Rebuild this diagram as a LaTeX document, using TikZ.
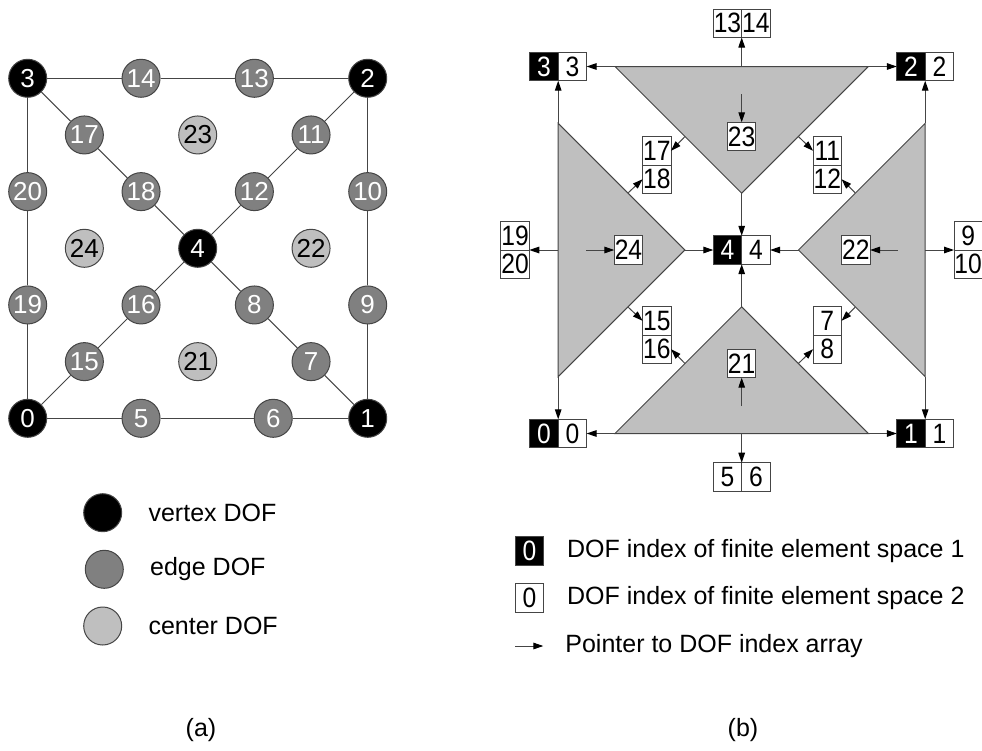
\documentclass[tikz,border=0pt]{standalone}
\usepackage{fontspec}
\setmainfont{Liberation Sans}
\newfontfamily\boxdigits[FakeStretch=0.88]{Liberation Sans}
\usetikzlibrary{arrows.meta,positioning}
\definecolor{edgegray}{gray}{0.5}
\definecolor{centergray}{gray}{0.75}
\definecolor{linegray}{gray}{0.27}
\tikzset{dof/.style={circle,draw=linegray,line width=0.5pt,minimum size=19pt,inner sep=0pt,font=\fontsize{13}{14}\selectfont},
  vdof/.style={dof,fill=black,text=white},
  edof/.style={dof,fill=edgegray,text=white},
  cdof/.style={dof,fill=centergray,text=black},
  cell/.style={draw=linegray,line width=0.5pt,fill=white,minimum width=14.2pt,minimum height=14.2pt,inner sep=0pt,outer sep=0pt,font=\boxdigits\fontsize{14}{15}\selectfont},
  bcell/.style={cell,fill=black,text=white},
  elem/.style={fill=centergray,draw=linegray,line width=0.5pt},
  ptr/.style={-{Triangle[length=5pt,width=3.3pt,black]},draw=linegray,line width=0.5pt},
  lbl/.style={font=\fontsize{12.5}{15}\selectfont,inner sep=0pt}}

\begin{document}
\begin{tikzpicture}[x=0.5pt,y=-0.5pt]
\useasboundingbox (0,0) rectangle (982,751);

% (a) DOFs of the quad element
\foreach \n/\i/\j/\s in {0/0/0/vdof,1/6/0/vdof,2/6/6/vdof,3/0/6/vdof,4/3/3/vdof,
  5/2/0/edof,6/4.333/0/edof,7/5/1/edof,8/4/2/edof,9/6/2/edof,10/6/4/edof,11/5/5/edof,12/4/4/edof,
  13/4/6/edof,14/2/6/edof,15/1/1/edof,16/2/2/edof,17/1/5/edof,18/2/4/edof,19/0/2/edof,20/0/4/edof,
  21/3/1/cdof,22/5/3/cdof,23/3/5/cdof,24/1/3/cdof}
  \node[\s] (d\n) at ({27.7+56.67*\i},{418.3-56.67*\j}) {\n};
\draw[linegray,line width=0.5pt] (d0)--(d5)--(d6)--(d1)--(d9)--(d10)--(d2)--(d13)--(d14)--(d3)--(d20)--(d19)--(d0);
\draw[linegray,line width=0.5pt] (d0)--(d15)--(d16)--(d4)--(d12)--(d11)--(d2);
\draw[linegray,line width=0.5pt] (d3)--(d17)--(d18)--(d4)--(d8)--(d7)--(d1);

\node[vdof] (kv) at (102.7,512.7) {};
\node[edof] (ke) at (104.3,569.3) {};
\node[cdof] (kc) at (102.7,626) {};
\node[lbl,right=13pt of kv] {vertex DOF};
\node[lbl,right=13pt of ke] {edge DOF};
\node[lbl,right=13pt of kc] {center DOF};
\node[lbl] at (201,730) {(a)};

% (b) the four sub-triangles
\coordinate (tl) at (615,66.5);   \coordinate (tr) at (868.4,66.5);  \coordinate (ta) at (741.7,193.2);
\coordinate (lt) at (558.2,123.3); \coordinate (lb) at (558.2,376.7); \coordinate (la) at (684.9,250);
\coordinate (rt) at (925.2,123.3); \coordinate (rb) at (925.2,376.7); \coordinate (ra) at (798.5,250);
\coordinate (bl) at (615,433.5);  \coordinate (br) at (868.4,433.5); \coordinate (ba) at (741.7,306.8);
\filldraw[elem] (tl) -- (tr) -- (ta) -- cycle;
\filldraw[elem] (lt) -- (la) -- (lb) -- cycle;
\filldraw[elem] (rt) -- (ra) -- (rb) -- cycle;
\filldraw[elem] (bl) -- (br) -- (ba) -- cycle;

% index boxes
\node[bcell,anchor=east] (b3) at (558.2,66.5) {3};  \node[cell,right=0pt of b3] (w3) {3};
\node[bcell,anchor=east] (b2) at (925.2,66.5) {2};  \node[cell,right=0pt of b2] (w2) {2};
\node[bcell,anchor=east] (b0) at (558.2,433.5) {0}; \node[cell,right=0pt of b0] (w0) {0};
\node[bcell,anchor=east] (b1) at (925.2,433.5) {1}; \node[cell,right=0pt of b1] (w1) {1};
\node[bcell,anchor=east] (b4) at (741.7,250) {4};   \node[cell,right=0pt of b4] (w4) {4};
\node[cell,anchor=south east] (c13) at (741.7,37.5) {13}; \node[cell,right=0pt of c13] (c14) {14};
\node[cell,anchor=north east] (c5) at (741.7,462.7) {5};  \node[cell,right=0pt of c5] (c6) {6};
\node[cell,anchor=south east] (c19) at (529.3,250) {19};  \node[cell,below=0pt of c19] (c20) {20};
\node[cell,anchor=south west] (c9) at (954,250) {9};      \node[cell,below=0pt of c9] (c10) {10};
\node[cell,anchor=south] (c17) at (656.8,165) {17}; \node[cell,below=0pt of c17] (c18) {18};
\node[cell,anchor=south] (c11) at (827.3,165) {11}; \node[cell,below=0pt of c11] (c12) {12};
\node[cell,anchor=south] (c15) at (656.8,335) {15}; \node[cell,below=0pt of c15] (c16) {16};
\node[cell,anchor=south] (c7) at (827.3,335) {7};   \node[cell,below=0pt of c7] (c8) {8};
\node[cell] (c23) at (741.7,136.5) {23};
\node[cell] (c21) at (741.7,363.5) {21};
\node[cell] (c24) at (628.5,250) {24};
\node[cell] (c22) at (855.9,250) {22};

% pointers
\coordinate (tm) at (741.7,66.5); \coordinate (bm) at (741.7,433.5);
\coordinate (lm) at (558.2,250);  \coordinate (rm) at (925.2,250);
\coordinate (p23) at (741.7,94);  \coordinate (p21) at (741.7,406);
\coordinate (p24) at (586,250);   \coordinate (p22) at (897.5,250);
\coordinate (e17) at (685,136.5);   \coordinate (e18) at (628.3,192.7);
\coordinate (e11) at (798.4,136.5); \coordinate (e12) at (855.1,192.7);
\coordinate (e15) at (628.3,307.3); \coordinate (e16) at (685,363.5);
\coordinate (e7) at (855.1,307.3);  \coordinate (e8) at (798.4,363.5);
\draw[ptr] (tl) -- (w3);  \draw[ptr] (tr) -- (b2);
\draw[ptr] (bl) -- (w0);  \draw[ptr] (br) -- (b1);
\draw[ptr] (lt) -- (b3.south east); \draw[ptr] (lb) -- (b0.north east);
\draw[ptr] (rt) -- (b2.south east); \draw[ptr] (rb) -- (b1.north east);
\draw[ptr] (tm) -- (c13.south east); \draw[ptr] (bm) -- (c5.north east);
\draw[ptr] (lm) -- (c19.south east); \draw[ptr] (rm) -- (c9.south west);
\draw[ptr] (la) -- (b4); \draw[ptr] (ra) -- (w4);
\draw[ptr] (ta) -- (b4.north east); \draw[ptr] (ba) -- (b4.south east);
\draw[ptr] (p23) -- (c23); \draw[ptr] (p21) -- (c21);
\draw[ptr] (p24) -- (c24); \draw[ptr] (p22) -- (c22);
\draw[ptr] (e17) -- (c17.east); \draw[ptr] (e18) -- (c18.west);
\draw[ptr] (e11) -- (c11.west); \draw[ptr] (e12) -- (c12.east);
\draw[ptr] (e15) -- (c15.west); \draw[ptr] (e16) -- (c16.east);
\draw[ptr] (e7) -- (c7.east);   \draw[ptr] (e8) -- (c8.west);

% legend
\node[bcell] (kb) at (529.5,551) {0};
\node[cell] (kw) at (529.5,598) {0};
\coordinate (ka) at (515,646); \coordinate (kz) at (543.3,646);
\draw[ptr] (ka) -- (kz);
\node[lbl,right=11.5pt of kb] {DOF index of finite element space 1};
\node[lbl,right=11.5pt of kw] {DOF index of finite element space 2};
\node[lbl,anchor=west] at (565,646) {Pointer to DOF index array};
\node[lbl] at (743,730) {(b)};
\end{tikzpicture}
\end{document}
